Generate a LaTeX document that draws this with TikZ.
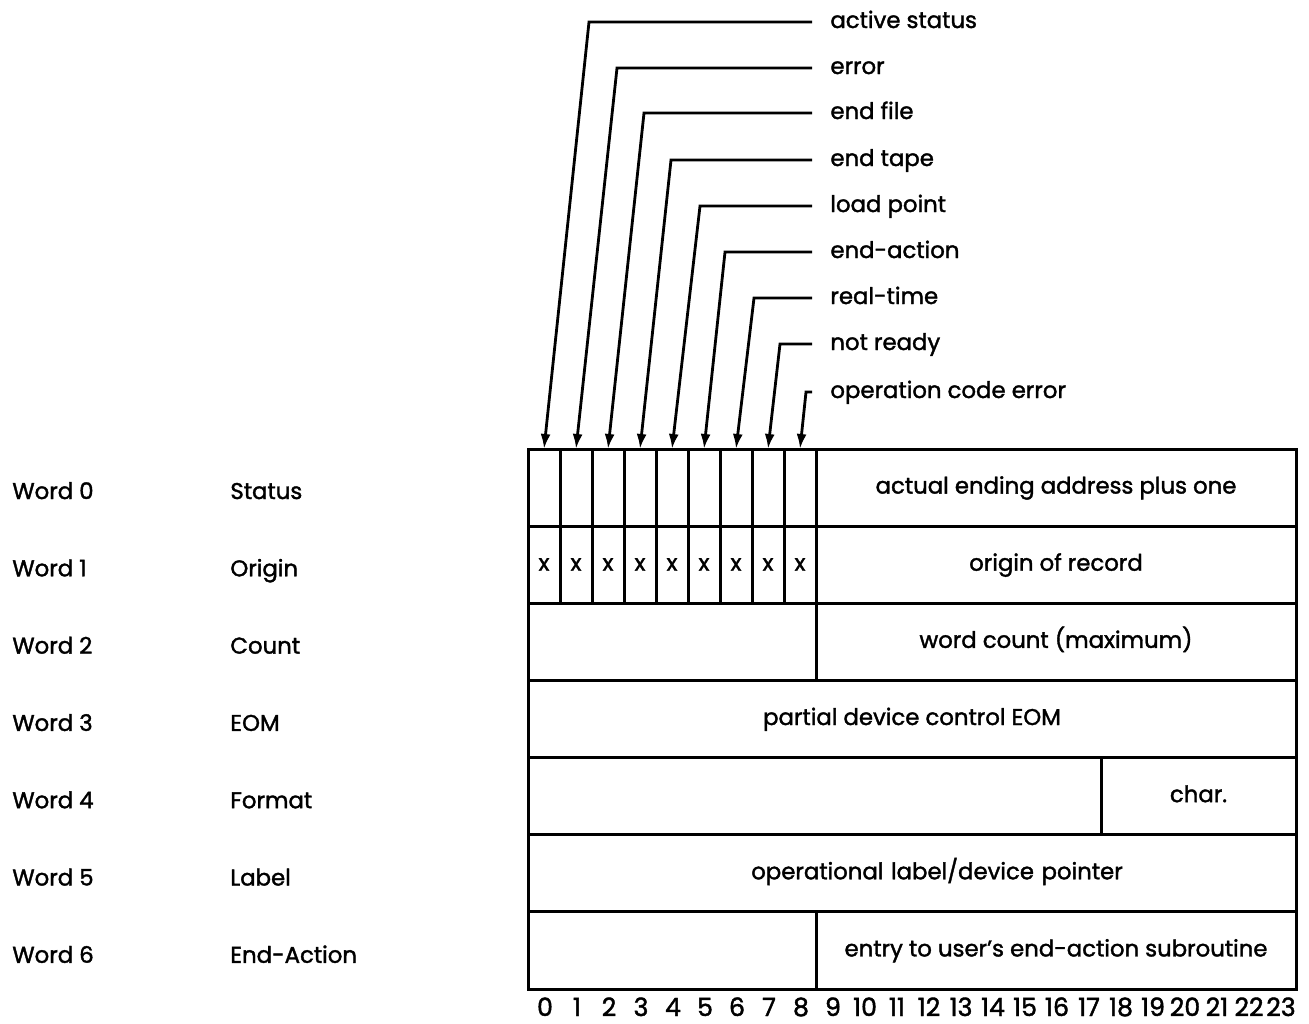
\documentclass[tikz,border=0pt]{standalone}
\usepackage{fontspec}
\setmainfont{Poppins}[RawFeature={embolden=1.6}]
\usetikzlibrary{arrows.meta}

\tikzset{
  txt/.style={font=\fontsize{11.4}{14}\selectfont, text height=8.5pt, text depth=2.5pt},
  field/.style={txt, draw, line width=1.5pt, anchor=north west, outer sep=0pt,
                inner sep=0pt, minimum height=38.57pt},
  rowlab/.style={txt, anchor=west, inner sep=0pt},
  bitlab/.style={txt, anchor=west, inner xsep=9pt, inner ysep=0pt},
  bitnum/.style={txt, font=\fontsize{12.6}{14}\selectfont, inner sep=0pt},
  pointer/.style={line width=1.4pt, -{Latex[length=7.5pt,width=5pt]}},
}

\begin{document}
\begin{tikzpicture}[x=0.5pt, y=-0.5pt]
  \useasboundingbox (0,0) rectangle (1309,1023);

  % word names on the left
  \foreach \r/\nm in {0/Status,1/Origin,2/Count,3/EOM,4/Format,5/Label,6/End-Action}{
    \node[rowlab] (w\r) at (12,{493+77.3*\r}) {Word \r};
    \node[rowlab] (t\r) at (230,{493+77.3*\r}) {\nm};
  }

  % word 0 and word 1: bits 0-8 one by one
  \foreach \i in {0,...,8}{
    \node[field, minimum width=16pt] (s\i) at ({528+32*\i},449) {};
    \node[field, minimum width=16pt] (o\i) at ({528+32*\i},526.14) {x};
  }
  \node[field, minimum width=240pt] (s9) at (816,449) {actual ending address plus one};
  \node[field, minimum width=240pt] (o9) at (816,526.14) {origin of record};

  % words 2 to 6
  \node[field, minimum width=144pt] (c0) at (528,603.29) {};
  \node[field, minimum width=240pt] (c9) at (816,603.29) {word count (maximum)};
  \node[field, minimum width=384pt] (e0) at (528,680.43) {partial device control EOM};
  \node[field, minimum width=286.5pt] (f0) at (528,757.57) {};
  \node[field, minimum width=97.5pt] (f1) at (1101,757.57) {char.};
  \node[field, minimum width=384pt, text width=384pt, align=center] (d0) at (528,834.71)
    {\hspace*{25pt}operational label/device pointer};
  \node[field, minimum width=144pt] (a0) at (528,911.86) {};
  \node[field, minimum width=240pt] (a9) at (816,911.86) {entry to user's end-action subroutine};

  % bit numbers
  \foreach \i in {0,...,23}
    \node[bitnum] (n\i) at ({545+32*\i},1010) {\i};

  % status bit labels and pointers
  \foreach \i/\yy/\kx/\lab in {0/22/589/active status, 1/68/617/error, 2/113/644/end file,
      3/160/671/end tape, 4/206/700/load point, 5/252/725/end-action,
      6/298/754/real-time, 7/344/780/not ready, 8/392/806/operation code error}{
    \node[bitlab] (l\i) at (812,\yy) {\lab};
    \coordinate (k\i) at (\kx,\yy);
    \draw[pointer] (l\i.west) -- (k\i) -- (s\i.north);
  }
\end{tikzpicture}
\end{document}
